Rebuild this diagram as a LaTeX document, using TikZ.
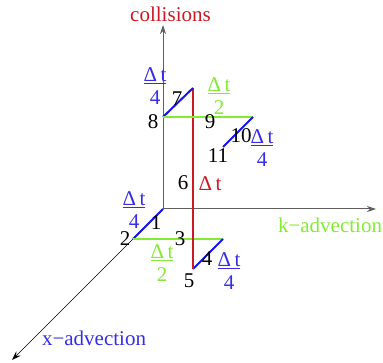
\documentclass[tikz,border=0pt]{standalone}
\usepackage{fontspec}
\setmainfont{Liberation Serif}
\usetikzlibrary{arrows.meta}
\definecolor{cred}{RGB}{205,25,35}
\definecolor{cgreen}{RGB}{130,235,50}
\definecolor{cblue}{RGB}{20,20,235}
\definecolor{tblue}{RGB}{55,45,230}
\definecolor{cgray}{RGB}{95,95,95}
\begin{document}
\begin{tikzpicture}[x=1pt,y=-1pt,
  every node/.style={font=\fontsize{21}{23}\selectfont, inner sep=0pt},
  axis/.style={cgray, line width=1pt, -{Stealth[length=9pt,width=6pt,inset=3pt]}},
  xaxis/.style={black, line width=0.7pt, -{Stealth[length=9pt,width=6pt,inset=3pt]}},
  bluel/.style={cblue, line width=2pt},
  greenl/.style={cgreen, line width=2pt},
  redl/.style={cred, line width=2pt},
  num/.style={black},
  frac/.style={align=center},
]
\useasboundingbox (0,0) rectangle (383,363);
% geometry
\coordinate (O) at (163,209);
\coordinate (ztop) at (163,25);
\coordinate (kend) at (376,209);
\coordinate (xend) at (12,360);
\coordinate (P2) at (133,239);
\coordinate (P3) at (223,239);
\coordinate (P5) at (193,269);
\coordinate (P7) at (193,88);
\coordinate (P8) at (163,117);
\coordinate (P9) at (253,117);
\coordinate (P11) at (223,147);
% axes
\draw[axis] (O) -- (ztop);
\draw[axis] (O) -- (kend);
\draw[xaxis] (O) -- (xend);
% path
\draw[bluel] (O) -- (P2);
\draw[greenl] (P2) -- (P3);
\draw[bluel] (P3) -- (P5);
\draw[redl] (P5) -- (P7);
\draw[bluel] (P7) -- (P8);
\draw[greenl] (P8) -- (P9);
\draw[bluel] (P9) -- (P11);
% axis labels
\node[cred, anchor=base] (lcol) at (170.5,22) {collisions};
\node[cgreen, anchor=base] (lk) at (330,233) {k−advection};
\node[tblue, anchor=base] (lx) at (94,345) {x−advection};
% numbers
\node[num] (n1) at (156,223) {1};
\node[num] (n2) at (125,239) {2};
\node[num] (n3) at (180,239) {3};
\node[num] (n4) at (207,259) {4};
\node[num] (n5) at (189,281) {5};
\node[num] (n6) at (183,183) {6};
\node[num] (n7) at (177,99) {7};
\node[num] (n8) at (153,122) {8};
\node[num] (n9) at (210,122) {9};
\node[num] (n10) at (241,136) {10};
\node[num] (n11) at (218,156) {11};
% fractions
\node[frac, tblue] (f1) at (155,86) {\underline{Δ\,t}\\4};
\node[frac, cgreen] (f2) at (219,96) {\underline{Δ\,t}\\2};
\node[frac, tblue] (f3) at (262,148) {\underline{Δ\,t}\\4};
\node[cred] (f4) at (210,184) {Δ\,t};
\node[frac, tblue] (f5) at (134,210) {\underline{Δ\,t}\\4};
\node[frac, cgreen] (f6) at (162,263) {\underline{Δ\,t}\\2};
\node[frac, tblue] (f7) at (229,271) {\underline{Δ\,t}\\4};
\end{tikzpicture}
\end{document}
